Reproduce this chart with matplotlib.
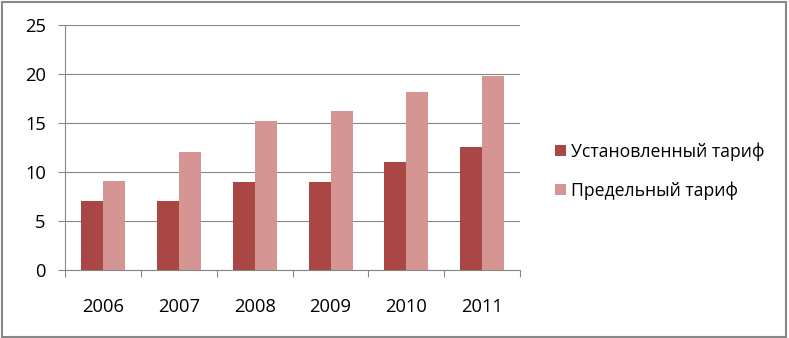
import matplotlib
matplotlib.use('Agg')
import matplotlib.pyplot as plt
import matplotlib.patches as patches
import numpy as np

plt.rcParams['font.family'] = ['Open Sans', 'DejaVu Sans']

years = ['2006', '2007', '2008', '2009', '2010', '2011']
set_tariff = [7, 7, 9, 9, 11, 12.5]
max_tariff = [9.1, 12, 15.2, 16.2, 18.1, 19.8]
labels = ['Установленный тариф', 'Предельный тариф']

dark = '#AA4644'
light = '#D59592'
grey = '#878787'

W, H = 789, 338
fig = plt.figure(figsize=(W / 100, H / 100), dpi=100)
ax = fig.add_axes([65.3 / W, 1 - 270 / H, (520 - 65.3) / W, (270 - 24.5) / H])

x = np.arange(len(years))
bw = 0.29
ax.bar(x - bw / 2, set_tariff, bw, color=dark, label=labels[0], zorder=3)
ax.bar(x + bw / 2, max_tariff, bw, color=light, label=labels[1], zorder=3)

ax.set_xlim(-0.5, len(years) - 0.5)
ax.set_ylim(0, 25)
ax.set_yticks(np.arange(0, 26, 5))
ax.yaxis.grid(True, color=grey, linewidth=0.8, zorder=0)

for s in ['top', 'right']:
    ax.spines[s].set_visible(False)
for s in ['left', 'bottom']:
    ax.spines[s].set_color(grey)
    ax.spines[s].set_linewidth(0.8)

# category labels centred, tick marks at category boundaries
ax.set_xticks(x)
ax.set_xticklabels(years)
ax.set_xticks(np.arange(-0.5, len(years)), minor=True)
ax.tick_params(axis='x', which='major', length=0, pad=20, labelsize=13.2)
ax.tick_params(axis='x', which='minor', length=5, width=0.8, color=grey, direction='out')
ax.tick_params(axis='y', length=5, width=0.8, color=grey, pad=9, labelsize=13.2)

ax.legend(loc='center left', bbox_to_anchor=(555 / W, 1 - 171 / H),
          bbox_transform=fig.transFigure, frameon=False, fontsize=12.7,
          handlelength=0.6, handleheight=0.6, handletextpad=0.3,
          labelspacing=1.15, borderpad=0, borderaxespad=0)

fig.patches.append(patches.Rectangle((1.5 / W, 1.5 / H), (786 - 1.5) / W, (336.5 - 1.5) / H,
                                     transform=fig.transFigure, fill=False,
                                     edgecolor=grey, linewidth=1.5))

fig.savefig('out.png', dpi=100)
